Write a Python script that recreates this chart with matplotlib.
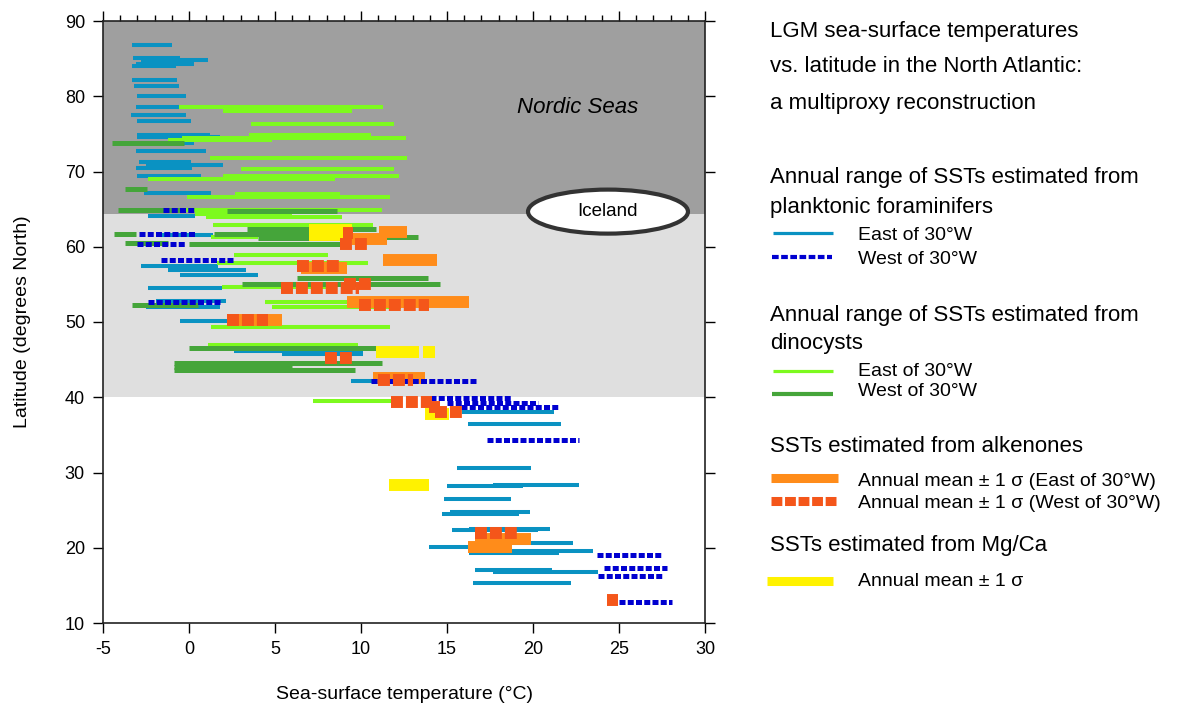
import matplotlib
matplotlib.use("Agg")
import matplotlib.pyplot as plt
from matplotlib.patches import Ellipse
from matplotlib.lines import Line2D
from matplotlib.ticker import MultipleLocator

plt.rcParams['font.family'] = ['Liberation Sans', 'DejaVu Sans']
plt.rcParams['axes.unicode_minus'] = False

# ---------------- data ----------------
# Planktonic foraminifers, East of 30W: latitude, min SST, max SST
foram_e_lat = [86.8, 85.1, 84.8, 84.25, 84.0, 82.2, 81.4, 80.0, 78.6, 77.5, 76.7, 74.8, 74.6,
               73.8, 72.7, 71.25, 70.85, 70.4, 69.4, 67.1, 64.1,
               61.5, 57.5, 56.9, 56.3, 54.5, 52.85, 52.0, 50.1, 46.1, 45.8, 42.2,
               38.0, 36.4, 30.6, 28.4, 28.2, 26.5, 24.8, 24.5, 22.5, 22.3, 20.6, 20.1,
               19.6, 19.25, 17.1, 16.8, 15.3]
foram_e_min = [-3.3, -3.25, -2.8, -3.1, -3.3, -3.3, -3.2, -3.0, -3.1, -3.4, -3.0, -3.0, -3.0,
               -3.0, -3.1, -2.9, -2.5, -3.1, -3.0, -2.6, -2.4,
               -1.6, -2.8, -1.2, -0.5, -2.4, -1.9, -2.5, -0.5, 2.6, 5.4, 9.4,
               15.9, 16.2, 15.6, 17.7, 15.0, 14.8, 15.2, 14.7, 16.3, 15.3, 17.3, 13.95,
               18.5, 16.3, 16.6, 17.7, 16.5]
foram_e_max = [-1.0, -0.5, 1.1, 0.3, -0.75, -0.7, -0.6, -0.2, -0.6, -0.2, 0.1, 1.2, 1.8,
               0.3, 1.0, 0.1, 2.0, 0.2, 0.7, 1.3, 0.35,
               1.4, 1.7, 3.3, 4.0, 1.9, 2.15, 1.8, 3.9, 10.1, 10.1, 10.7,
               21.2, 21.6, 19.9, 22.7, 19.4, 18.7, 19.8, 19.2, 21.0, 20.3, 22.3, 18.8,
               23.5, 21.5, 21.1, 23.8, 22.2]

# Planktonic foraminifers, West of 30W
foram_w_lat = [64.9, 61.7, 60.4, 58.25, 52.7, 42.2, 39.9, 39.3, 38.7, 34.3, 19.0, 17.3, 16.2, 12.8]
foram_w_min = [-1.5, -2.9, -3.0, -1.6, -2.4, 10.6, 14.0, 15.0, 15.8, 17.3, 23.7, 24.1, 23.8, 25.0]
foram_w_max = [0.4, 0.4, -0.2, 2.6, 1.8, 16.8, 18.7, 20.3, 21.5, 22.7, 27.5, 27.8, 27.6, 28.1]

# Dinocysts, East of 30W
dino_e_lat = [78.6, 78.1, 76.3, 74.9, 74.45, 74.2, 71.8, 70.3, 69.4, 69.0, 67.0, 66.55,
              64.9, 64.35, 63.9, 62.9, 61.25, 58.9, 57.8, 54.6, 52.7, 52.0, 49.3, 46.9, 39.5]
dino_e_min = [-0.6, 2.0, 3.6, 3.5, -0.4, -1.2, 1.2, 3.0, 2.0, -2.4, 2.7, -0.1,
              -0.5, 0.35, 1.0, 1.4, 1.3, 2.6, 1.6, 1.9, 4.4, 4.8, 1.3, 1.1, 7.2]
dino_e_max = [11.3, 9.5, 11.9, 10.6, 12.6, 4.8, 12.7, 11.9, 12.2, 8.5, 8.8, 11.7,
              11.2, 6.0, 8.9, 10.7, 4.0, 8.1, 10.4, 8.0, 9.9, 12.3, 11.7, 9.8, 12.1]

# Dinocysts, West of 30W
dino_w_lat = [73.8, 67.7, 64.9, 64.8, 62.3, 61.7, 61.7, 61.3, 61.1, 60.45, 60.4,
              55.9, 55.0, 52.2, 46.5, 44.55, 44.0, 43.6]
dino_w_min = [-4.5, -3.7, -4.1, 2.2, 3.4, -4.35, 1.45, 9.7, 4.0, -3.7, 0.0,
              6.3, 3.1, -3.3, 0.0, -0.9, -0.9, -0.85]
dino_w_max = [-0.3, -2.45, -0.5, 8.6, 10.9, -3.1, 9.5, 13.3, 9.3, -1.2, 9.2,
              13.9, 14.6, 0.5, 10.9, 11.2, 6.0, 9.65]

# Mg/Ca, annual mean +/- 1 sigma
mgca_lat = [62.2, 61.6, 46.0, 46.0, 37.8, 28.4]
mgca_min = [7.0, 7.0, 10.9, 13.6, 13.7, 11.6]
mgca_max = [9.5, 9.5, 13.4, 14.3, 15.1, 13.95]

# Alkenones, East of 30W, annual mean +/- 1 sigma
alk_e_lat = [61.9, 61.0, 58.3, 57.2, 52.65, 50.2, 42.57, 21.2, 20.15]
alk_e_min = [11.05, 9.5, 11.3, 6.5, 9.2, 2.2, 10.7, 16.6, 16.2]
alk_e_max = [12.67, 11.5, 14.4, 9.2, 16.3, 5.4, 13.7, 19.9, 18.8]

# Alkenones, West of 30W, annual mean +/- 1 sigma
alk_w_lat = [61.8, 60.35, 57.4, 55.1, 54.5, 52.25, 50.2, 45.2, 42.24, 39.4, 38.7, 38.0, 22.0, 13.1]
alk_w_min = [8.95, 8.8, 6.3, 9.0, 5.35, 9.9, 2.2, 7.9, 11.0, 11.75, 13.95, 14.3, 16.6, 24.3]
alk_w_max = [9.55, 10.35, 8.7, 10.6, 9.9, 13.95, 4.6, 9.5, 13.0, 14.15, 14.6, 15.9, 19.1, 24.95]

x_ticks = [-5, 0, 5, 10, 15, 20, 25, 30]
y_ticks = [10, 20, 30, 40, 50, 60, 70, 80, 90]

# ---------------- styles ----------------
C_FORAM_E = "#0a92c2"
C_FORAM_W = "#0000d0"
C_DINO_E = "#7dfa1e"
C_DINO_W = "#45a53a"
C_MGCA = "#fff200"
C_ALK_E = "#ff8c1a"
C_ALK_W = "#f4561a"

fig = plt.figure(figsize=(11.77, 7.09), dpi=100)
ax = fig.add_axes([103 / 1177, 1 - 623 / 709, 602 / 1177, 602 / 709])
ax.set_xlim(-5, 30)
ax.set_ylim(10, 90)

ax.axhspan(64.37, 90, color="#9f9f9f", zorder=0, lw=0)
ax.axhspan(40, 64.37, color="#dfdfdf", zorder=0, lw=0)


def draw(lats, mins, maxs, color, lw, z, dashes=None):
    for la, a, b in zip(lats, mins, maxs):
        kw = dict(color=color, lw=lw, zorder=z, solid_capstyle='butt', dash_capstyle='butt')
        if dashes is not None:
            kw['linestyle'] = (0, dashes)
        ax.plot([a, b], [la, la], **kw)


draw(foram_e_lat, foram_e_min, foram_e_max, C_FORAM_E, 2.9, 2)
draw(dino_e_lat, dino_e_min, dino_e_max, C_DINO_E, 2.9, 3)
draw(dino_w_lat, dino_w_min, dino_w_max, C_DINO_W, 3.6, 4)
draw(mgca_lat, mgca_min, mgca_max, C_MGCA, 8.6, 5)
draw(alk_e_lat, alk_e_min, alk_e_max, C_ALK_E, 8.6, 6)
draw(foram_w_lat, foram_w_min, foram_w_max, C_FORAM_W, 3.6, 7, dashes=(1.2, 0.45))
draw(alk_w_lat, alk_w_min, alk_w_max, C_ALK_W, 8.6, 8, dashes=(1.0, 0.25))

# Iceland
ax.add_patch(Ellipse((24.36, 64.67), 9.3, 5.85, facecolor="white", edgecolor="#333333",
                     lw=3, zorder=9))
ax.text(24.36, 64.67, "Iceland", ha="center", va="center", fontsize=13.5, zorder=10)
ax.text(22.6, 78.5, "Nordic Seas", ha="center", va="center", fontsize=16, style="italic",
        zorder=10)

# axes styling
ax.set_xticks(x_ticks)
ax.set_yticks(y_ticks)
ax.xaxis.set_minor_locator(MultipleLocator(1))
ax.tick_params(axis='both', which='major', direction='out', length=7, width=1,
               labelsize=13, pad=6)
ax.tick_params(axis='x', which='major', top=True, bottom=True)
ax.tick_params(axis='x', which='minor', top=True, bottom=False, direction='out', length=4,
               width=1)
ax.tick_params(axis='y', which='major', left=True, right=True)
for s in ax.spines.values():
    s.set_linewidth(1.2)
    s.set_color("#222222")
    s.set_zorder(11)
ax.set_xlabel("Sea-surface temperature (°C)", fontsize=14, labelpad=20)
ax.set_ylabel("Latitude (degrees North)", fontsize=14, labelpad=24)

# ---------------- right-hand key (figure pixel coordinates) ----------------
kax = fig.add_axes([0, 0, 1, 1], facecolor="none")
kax.set_xlim(0, 1177)
kax.set_ylim(709, 0)
kax.axis("off")

TX = 770
for y, s in [(31, "LGM sea-surface temperatures"),
             (67, "vs. latitude in the North Atlantic:"),
             (103, "a multiproxy reconstruction"),
             (177, "Annual range of SSTs estimated from"),
             (207, "planktonic foraminifers"),
             (316, "Annual range of SSTs estimated from"),
             (344, "dinocysts"),
             (446, "SSTs estimated from alkenones"),
             (546, "SSTs estimated from Mg/Ca")]:
    kax.text(TX, y, s, fontsize=16, va="center", ha="left")

SX = 858
for y, s in [(236, "East of 30°W"), (259, "West of 30°W"),
             (372, "East of 30°W"), (392, "West of 30°W"),
             (481, "Annual mean ± 1 σ (East of 30°W)"),
             (504, "Annual mean ± 1 σ (West of 30°W)"),
             (582, "Annual mean ± 1 σ")]:
    kax.text(SX, y, s, fontsize=14, va="center", ha="left")

samples = [
    (773, 833, 233, C_FORAM_E, 2.3, None),
    (772, 832, 257, C_FORAM_W, 3.0, (1.6, 0.6)),
    (773, 833, 371, C_DINO_E, 2.3, None),
    (772, 833, 394, C_DINO_W, 3.0, None),
    (771, 838, 478, C_ALK_E, 6.5, None),
    (771, 837, 501, C_ALK_W, 6.5, (1.2, 0.3)),
    (767, 833, 581, C_MGCA, 6.5, None),
]
for x0, x1, y, c, lw, d in samples:
    ln = Line2D([x0, x1], [y, y], color=c, lw=lw, solid_capstyle='butt',
                dash_capstyle='butt')
    if d is not None:
        ln.set_linestyle((0, d))
    kax.add_line(ln)

fig.savefig("out.png", dpi=100)
